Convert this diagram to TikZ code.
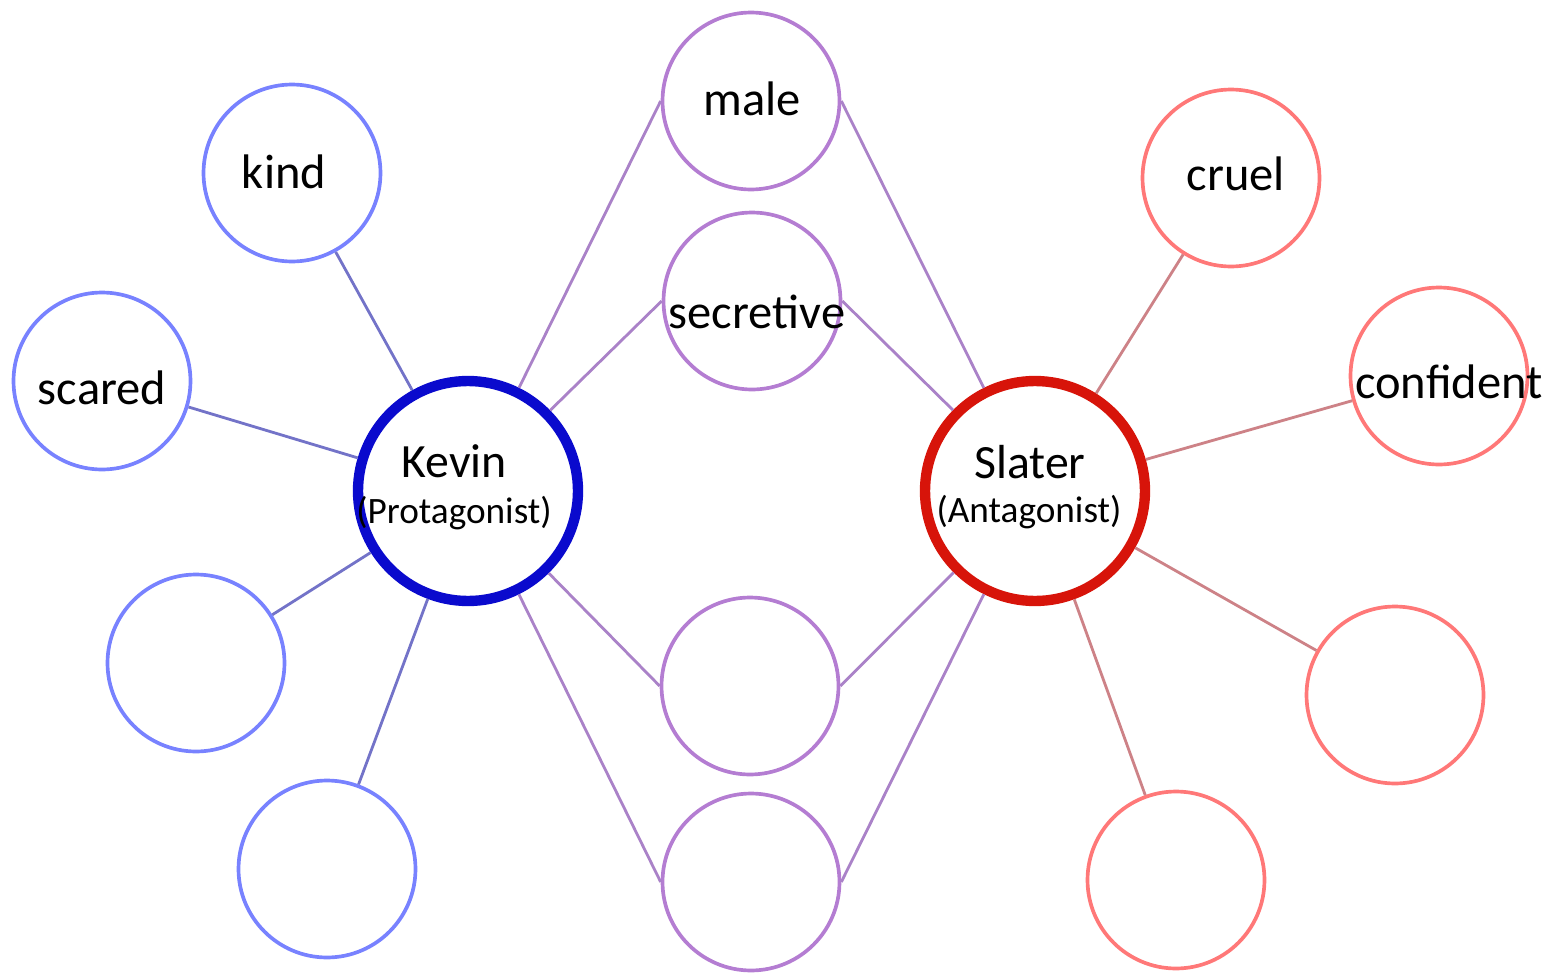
\documentclass[tikz,border=0pt]{standalone}
\usepackage{fontspec}
\setmainfont{Carlito}
\usepackage{xcolor}
\usepackage{tikz}
\definecolor{kevinblue}{RGB}{10,10,205}
\definecolor{slaterred}{RGB}{215,20,10}
\definecolor{softblue}{RGB}{120,130,255}
\definecolor{softred}{RGB}{255,120,120}
\definecolor{softpurple}{RGB}{180,125,210}
\definecolor{bluelink}{RGB}{115,115,200}
\definecolor{redlink}{RGB}{205,130,135}
\definecolor{purplelink}{RGB}{170,130,200}
\begin{document}
\begin{tikzpicture}[x=0.02cm,y=-0.02cm,
  trait/.style={circle, draw, line width=2.1pt, minimum size=3.54cm, inner sep=0pt},
  hero/.style={circle, draw, line width=5.9pt, minimum size=4.4cm, inner sep=0pt},
  word/.style={anchor=base, font=\fontsize{27.6}{31}\selectfont},
  heroname/.style={anchor=base, font=\fontsize{27.2}{31}\selectfont},
  role/.style={anchor=base, font=\fontsize{21.2}{24}\selectfont},
  link/.style={line width=1.6pt}]
\useasboundingbox (0,0) rectangle (1553,974);
\node[hero, draw=kevinblue] (kevin) at (468,491) {};
\node[hero, draw=slaterred] (slater) at (1035,491) {};
\node[trait, draw=softblue] (kind) at (292,173) {};
\node[trait, draw=softblue] (scared) at (102,381) {};
\node[trait, draw=softblue] (blueC) at (196,663) {};
\node[trait, draw=softblue] (blueD) at (327,869) {};
\node[trait, draw=softpurple] (male) at (751,101) {};
\node[trait, draw=softpurple] (secretive) at (752,301) {};
\node[trait, draw=softpurple] (purpleC) at (750,686) {};
\node[trait, draw=softpurple] (purpleD) at (751,882) {};
\node[trait, draw=softred] (cruel) at (1231,178) {};
\node[trait, draw=softred] (confident) at (1439,376) {};
\node[trait, draw=softred] (redC) at (1395,695) {};
\node[trait, draw=softred] (redD) at (1176,880) {};
\draw[link, bluelink] (kevin) -- (kind) (kevin) -- (scared) (kevin) -- (blueC) (kevin) -- (blueD);
\draw[link, redlink] (slater) -- (cruel) (slater) -- (confident) (slater) -- (redC) (slater) -- (redD);
\draw[link, purplelink] (kevin) -- (male.west) (kevin) -- (secretive.west) (kevin) -- (purpleC.west) (kevin) -- (purpleD.west);
\draw[link, purplelink] (slater) -- (male.east) (slater) -- (secretive.east) (slater) -- (purpleC.east) (slater) -- (purpleD.east);
\node[word] at (284,188) {kind};
\node[word] at (102,404) {scared};
\node[word] at (752,115) {male};
\node[word] at (757,328) {secretive};
\node[word] at (1236,190) {cruel};
\node[word] at (1449,398) {confident};
\node[heroname] at (454,477) {Kevin};
\node[role] at (454,523) {(Protagonist)};
\node[heroname] at (1030,478) {Slater};
\node[role] at (1029,522) {(Antagonist)};
\end{tikzpicture}
\end{document}
